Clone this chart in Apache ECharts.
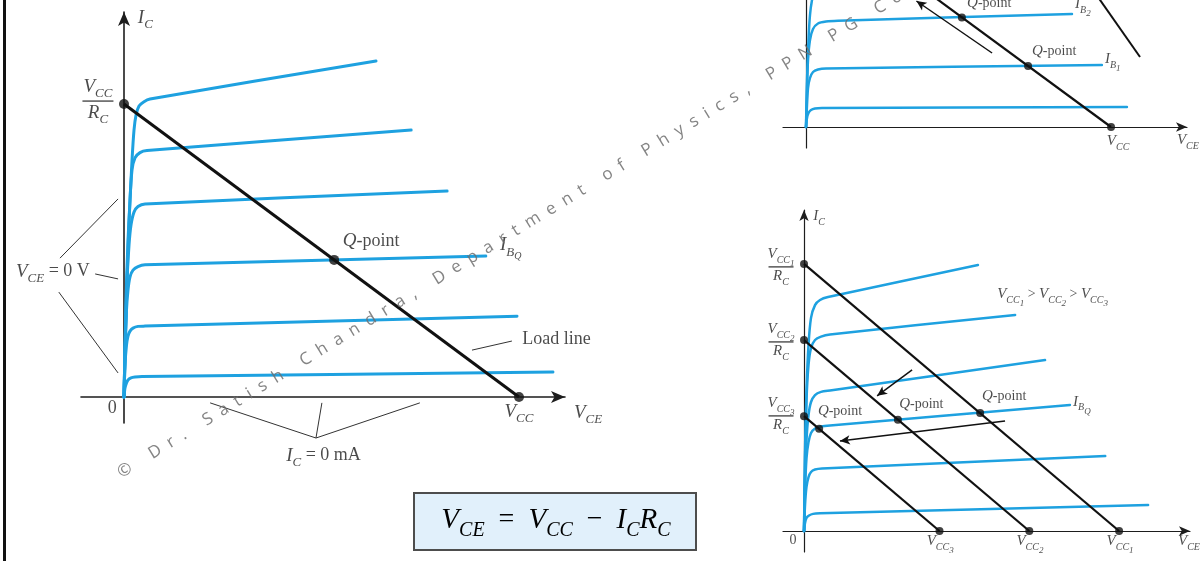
<!DOCTYPE html>
<html>
<head>
<meta charset="utf-8">
<title>Load line</title>
<script src="https://cdn.jsdelivr.net/npm/echarts@6.0.0/dist/echarts.min.js"></script>
<style>
html,body{margin:0;padding:0;background:#ffffff;}
#chart{width:1201px;height:561px;}
</style>
</head>
<body>
<div id="chart"></div>
<script>
// ================= DATA (arbitrary units) =================
// Left panel: V_CC = 10 on the V_CE axis, V_CC/R_C = 10 on the I_C axis
const mainIb6 = [[0,0],[0.051,3.31],[0.101,5.36],[0.152,6.72],[0.203,8.09],[0.253,9.11],[0.304,9.62],[0.38,9.93],[0.506,10.08],[0.658,10.17],[6.38,11.47]];
const mainIb5 = [[0,0],[0.051,2.63],[0.101,5.02],[0.152,6.72],[0.203,7.75],[0.278,8.16],[0.405,8.34],[0.582,8.41],[7.27,9.11]];
const mainIb4 = [[0,0],[0.038,2.29],[0.076,3.99],[0.127,5.19],[0.177,5.87],[0.253,6.31],[0.354,6.50],[0.532,6.59],[8.18,7.03]];
const mainIbQ = [[0,0],[0.025,1.60],[0.063,2.97],[0.101,3.65],[0.152,4.10],[0.228,4.33],[0.354,4.45],[0.532,4.51],[9.16,4.81]];
const mainIb2 = [[0,0],[0.025,1.09],[0.063,1.77],[0.101,2.08],[0.152,2.25],[0.228,2.35],[0.354,2.41],[0.532,2.42],[9.95,2.76]];
const mainIb1 = [[0,0],[0.025,0.31],[0.063,0.48],[0.101,0.58],[0.177,0.65],[0.278,0.68],[0.456,0.70],[10.86,0.85]];
const mainLoadLine = [[0,10],[10,0]];
const mainQPoint = [[5.32,4.68]];
const mainLeaders = [
  [[-0.15,6.76],[-1.62,4.74]],
  [[-0.73,4.20],[-0.15,4.03]],
  [[-1.65,3.58],[-0.15,0.82]],
  [[2.18,-0.20],[4.86,-1.40],[7.49,-0.20]],
  [[5.01,-0.20],[4.86,-1.40]],
  [[8.81,1.60],[9.82,1.91]]
];

// Upper-right panel (cut off at the top)
const topIb3 = [[0,0],[0.033,4.7],[0.082,8.7],[0.131,11.2],[0.197,12.7],[0.295,13.9],[0.623,14.9],[7.67,15.7]];
const topIb2 = [[0,0],[0.033,3.7],[0.066,6.7],[0.131,8.7],[0.23,9.8],[0.393,10.35],[0.656,10.55],[1.05,10.63],[8.72,11.3]];
const topIb1 = [[0,0],[0.033,2.2],[0.066,3.9],[0.131,4.9],[0.23,5.5],[0.393,5.75],[0.656,5.85],[9.70,6.2]];
const topIb0 = [[0,0],[0.033,0.9],[0.082,1.4],[0.164,1.7],[0.295,1.85],[0.525,1.9],[10.52,2.0]];
const topLoadLine = [[10,0],[3.0,15.7]];
const topSteepLine = [[10.95,7.0],[8.95,15.7]];
const topQPoints = [[7.28,6.09],[5.11,10.95]];
const topVcc = [[10,0]];
const topArrow = [[6.10,7.4],[3.62,12.6]];

// Lower-right panel: V_CC1 = 10
const lowIb6 = [[0,0],[0.032,3.03],[0.079,5.28],[0.143,6.97],[0.222,7.98],[0.349,8.46],[0.508,8.65],[0.762,8.76],[5.52,9.96]];
const lowIb5 = [[0,0],[0.032,2.66],[0.079,4.91],[0.143,6.22],[0.222,6.85],[0.349,7.15],[0.54,7.28],[0.825,7.36],[6.70,8.09]];
const lowIb4 = [[0,0],[0.032,1.91],[0.079,3.41],[0.143,4.34],[0.222,4.83],[0.349,5.09],[0.54,5.21],[0.825,5.26],[7.65,6.4]];
const lowIbQ = [[0,0],[0.032,1.54],[0.079,2.73],[0.143,3.33],[0.222,3.67],[0.349,3.84],[0.54,3.91],[0.825,3.95],[8.44,4.72]];
const lowIb2 = [[0,0],[0.032,0.97],[0.079,1.65],[0.143,2.02],[0.222,2.21],[0.349,2.30],[0.571,2.34],[9.56,2.81]];
const lowIb1 = [[0,0],[0.032,0.30],[0.079,0.49],[0.159,0.58],[0.286,0.64],[0.508,0.66],[10.92,0.97]];
const lowVcc = [10, 7.15, 4.3];
const lowQPoints = [[5.59,4.42],[2.98,4.17],[0.48,3.83]];
const lowArrowStraight = [[3.43,6.03],[2.32,5.06]];
const lowArrowCurved = [[6.38,4.12],[1.14,3.37]];

// ================= TEXT =================
const mainLabels = [
  {at:[0.35,12.9],  txt:'{v|I}{s|C}', align:'left'},
  {at:[-0.66,10.1], txt:'{v|V}{s|CC}\n{bar|}\n{v|R}{s|C}', align:'center'},
  {at:[5.54,5.26],  txt:'{v|Q}{r|-point}', align:'left'},
  {at:[9.52,5.12],  txt:'{v|I}{s|B}{ss|Q}', align:'left'},
  {at:[10.0,-0.55], txt:'{v|V}{s|CC}', align:'center'},
  {at:[11.75,-0.58],txt:'{v|V}{s|CE}', align:'center'},
  {at:[-0.30,-0.44],txt:'{r|0}', align:'center'},
  {at:[-1.80,4.23], txt:'{v|V}{s|CE}{r| = 0 V}', align:'center'},
  {at:[5.05,-2.05], txt:'{v|I}{s|C}{r| = 0 mA}', align:'center'},
  {at:[10.08,1.91], txt:'{r|Load line}', align:'left'}
];
const topLabels = [
  {at:[5.28,12.2],  txt:'{v|Q}{r|-point}', align:'left'},
  {at:[7.41,7.4],   txt:'{v|Q}{r|-point}', align:'left'},
  {at:[8.82,12.1],  txt:'{v|I}{s|B}{ss|2}', align:'left'},
  {at:[9.80,6.6],   txt:'{v|I}{s|B}{ss|1}', align:'left'},
  {at:[10.23,-1.6], txt:'{v|V}{s|CC}', align:'center'},
  {at:[12.52,-1.5], txt:'{v|V}{s|CE}', align:'center'}
];
const lowLabels = [
  {at:[0.29,11.72], txt:'{v|I}{s|C}', align:'left'},
  {at:[-0.73,9.89], txt:'{v|V}{s|CC}{ss|1}\n{bar|}\n{v|R}{s|C}', align:'center'},
  {at:[-0.73,7.08], txt:'{v|V}{s|CC}{ss|2}\n{bar|}\n{v|R}{s|C}', align:'center'},
  {at:[-0.73,4.31], txt:'{v|V}{s|CC}{ss|3}\n{bar|}\n{v|R}{s|C}', align:'center'},
  {at:[6.13,8.8],   txt:'{v|V}{s|CC}{ss|1}{r| > }{v|V}{s|CC}{ss|2}{r| > }{v|V}{s|CC}{ss|3}', align:'left'},
  {at:[0.44,4.42],  txt:'{v|Q}{r|-point}', align:'left'},
  {at:[3.02,4.68],  txt:'{v|Q}{r|-point}', align:'left'},
  {at:[5.65,4.98],  txt:'{v|Q}{r|-point}', align:'left'},
  {at:[8.54,4.76],  txt:'{v|I}{s|B}{ss|Q}', align:'left'},
  {at:[4.32,-0.45], txt:'{v|V}{s|CC}{ss|3}', align:'center'},
  {at:[7.17,-0.45], txt:'{v|V}{s|CC}{ss|2}', align:'center'},
  {at:[10.03,-0.45],txt:'{v|V}{s|CC}{ss|1}', align:'center'},
  {at:[-0.35,-0.41],txt:'{r|0}', align:'center'},
  {at:[11.87,-0.45],txt:'{v|V}{s|CE}', align:'left'}
];
const formulaText = '{v|V}{s|CE}{r|  =  }{v|V}{s|CC}{r|  \u2212  }{v|I}{s|C}{v|R}{s|C}';
const watermarkWords = ['\u00a9', 'Dr.', 'Satish', 'Chandra,', 'Department', 'of', 'Physics,', 'PPN', 'PG', 'College'];

// ================= STYLE =================
const SERIF = '"Liberation Serif","Times New Roman","DejaVu Serif",serif';
const INK = '#1d1d1d';
const BLUE = '#1ea1e0';

function rich(fs) {
  const s = Math.round(fs * 0.68), ss = Math.max(9, Math.round(fs * 0.55));
  const base = {fontFamily: SERIF, color: INK, verticalAlign: 'top'};
  return {
    v: Object.assign({}, base, {fontStyle: 'italic', fontSize: fs, lineHeight: fs + 3}),
    r: Object.assign({}, base, {fontSize: fs - 1, lineHeight: fs + 3}),
    s: Object.assign({}, base, {fontStyle: 'italic', fontSize: s, lineHeight: s, padding: [Math.round(fs * 0.5), 0, 0, 0]}),
    ss: Object.assign({}, base, {fontStyle: 'italic', fontSize: ss, lineHeight: ss, padding: [Math.round(fs * 0.8), 0, 0, 0]}),
    bar: {width: Math.round(fs * 1.65), height: 1.4, fontSize: 1, lineHeight: 4, backgroundColor: INK, verticalAlign: 'middle'}
  };
}

function axisPair(gi, xr, yr, arrow, lw, yArrow, visible) {
  const mk = sym => ({show: visible, onZero: true, symbol: sym, symbolSize: arrow,
    lineStyle: {color: INK, width: lw}});
  const common = {type: 'value', gridIndex: gi, axisTick: {show: false},
    axisLabel: {show: false}, splitLine: {show: false}};
  return [
    Object.assign({}, common, {min: xr[0], max: xr[1], axisLine: mk(['none', 'arrow'])}),
    Object.assign({}, common, {min: yr[0], max: yr[1], axisLine: mk(yArrow ? ['none', 'arrow'] : 'none')})
  ];
}
const ax0 = axisPair(0, [-1.089, 11.165], [-0.887, 13.14], [9, 14], 1.6, true, true);
const ax1 = axisPair(1, [-0.754, 12.49], [-2.1, 12.7], [7, 11], 1.2, false, true);
const ax2 = axisPair(2, [-0.667, 12.25], [-0.787, 12.02], [7, 11], 1.2, true, true);
// overlay with the same scale as the left panel, wider, for the leader lines
const ax3 = axisPair(3, [-2.1, 11.165], [-2.5, 13.14], [9, 14], 1, false, false);

function curve(data, gi, w) {
  return {type: 'line', xAxisIndex: gi, yAxisIndex: gi, data: data, symbol: 'none',
    smooth: 0.25, lineStyle: {color: BLUE, width: w, cap: 'round', join: 'round'}, silent: true, z: 2};
}
function blackLine(data, gi, w, color) {
  return {type: 'line', xAxisIndex: gi, yAxisIndex: gi, data: data, symbol: 'none',
    lineStyle: {color: color || '#111', width: w}, silent: true, z: 3};
}
function dots(data, gi, size) {
  return {type: 'scatter', xAxisIndex: gi, yAxisIndex: gi, data: data, symbolSize: size,
    itemStyle: {color: '#111'}, silent: true, z: 4};
}
function labels(list, gi, fs) {
  return {type: 'scatter', xAxisIndex: gi, yAxisIndex: gi, symbolSize: 0, clip: false, silent: true, z: 6,
    data: list.map(l => ({value: l.at, txt: l.txt, label: {align: l.align}})),
    label: {show: true, position: 'inside', verticalAlign: 'middle', color: INK,
      formatter: p => p.data.txt, rich: rich(fs)}};
}
function arrows(pairs, gi, curv) {
  return {type: 'line', xAxisIndex: gi, yAxisIndex: gi, data: [], silent: true,
    markLine: {silent: true, symbol: ['none', 'arrow'], symbolSize: [7, 10], animation: false,
      label: {show: false}, lineStyle: {color: '#111', width: 1.5, type: 'solid'},
      data: pairs.map((p, i) => [{coord: p[0], lineStyle: {curveness: curv[i]}}, {coord: p[1]}])}};
}

const series = [];
[mainIb6, mainIb5, mainIb4, mainIbQ, mainIb2, mainIb1].forEach(d => series.push(curve(d, 0, 3)));
series.push(blackLine(mainLoadLine, 0, 3));
mainLeaders.forEach(d => series.push(blackLine(d, 3, 1, '#333')));
series.push(dots([mainLoadLine[0], mainLoadLine[1]].concat(mainQPoint), 0, 10));
series.push(labels(mainLabels, 0, 19));

[topIb3, topIb2, topIb1, topIb0].forEach(d => series.push(curve(d, 1, 2.5)));
series.push(blackLine(topLoadLine, 1, 2.2));
series.push(blackLine(topSteepLine, 1, 2));
series.push(dots(topQPoints.concat(topVcc), 1, 8));
series.push(arrows([topArrow], 1, [0]));
series.push(labels(topLabels, 1, 15));

[lowIb6, lowIb5, lowIb4, lowIbQ, lowIb2, lowIb1].forEach(d => series.push(curve(d, 2, 2.5)));
lowVcc.forEach(v => series.push(blackLine([[0, v], [v, 0]], 2, 2.2)));
series.push(dots(lowVcc.map(v => [0, v]).concat(lowVcc.map(v => [v, 0]), lowQPoints), 2, 8));
series.push(arrows([lowArrowStraight, lowArrowCurved], 2, [0, -0.06]));
series.push(labels(lowLabels, 2, 15));

const watermark = watermarkWords.map(w => w.split('').join('  ')).join('     ');

const chart = echarts.init(document.getElementById('chart'), null, {renderer: 'canvas'});
chart.setOption({
  animation: false,
  backgroundColor: '#ffffff',
  grid: [
    {left: 81, top: 12, width: 484, height: 411},
    {left: 783, top: 0, width: 404, height: 148},
    {left: 783, top: 210, width: 407, height: 342},
    {left: 41.05, top: 12, width: 523.97, height: 458.25}
  ],
  xAxis: [ax0[0], ax1[0], ax2[0], ax3[0]],
  yAxis: [ax0[1], ax1[1], ax2[1], ax3[1]],
  series: series,
  graphic: [
    {type: 'rect', shape: {x: 3, y: 0, width: 3, height: 561}, style: {fill: '#111'}, z: 10, silent: true},
    {type: 'rect', shape: {x: 414, y: 493, width: 282, height: 57},
      style: {fill: '#e1f0fb', stroke: '#4d4d4d', lineWidth: 2}, z: 10, silent: true},
    {type: 'text', x: 556, y: 522, z: 11, silent: true,
      style: {text: formulaText, align: 'center', verticalAlign: 'middle', rich: rich(29)}},
    {type: 'text', x: 119, y: 474, rotation: 0.55, z: 20, silent: true,
      style: {text: watermark, align: 'left', verticalAlign: 'middle',
        font: '17px "Open Sans", "DejaVu Sans", sans-serif', fill: 'rgba(110,110,110,0.85)'}}
  ]
});
</script>
</body>
</html>
